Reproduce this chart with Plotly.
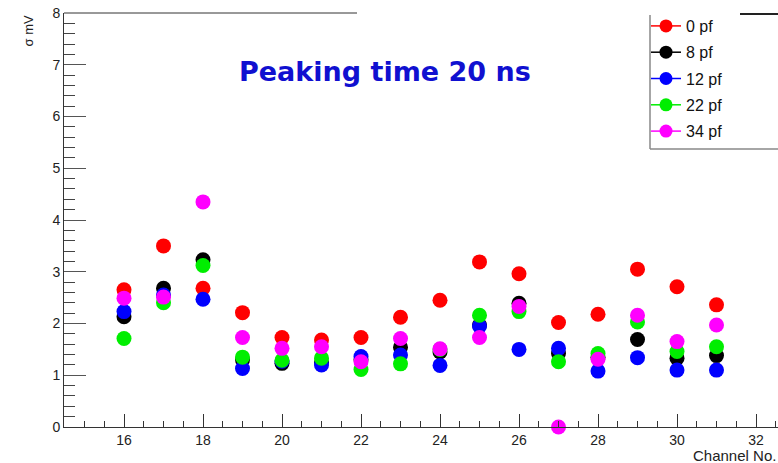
import plotly.graph_objects as go

channels = list(range(16, 32))
series_names = ["0 pf", "8 pf", "12 pf", "22 pf", "34 pf"]
series_colors = ["#ff0000", "#000000", "#0000ff", "#00ee00", "#ff00ff"]

sigma_0pf = [2.65, 3.50, 2.68, 2.21, 1.73, 1.68, 1.73, 2.12, 2.45, 3.19, 2.96, 2.02, 2.18, 3.05, 2.71, 2.36]
sigma_8pf = [2.13, 2.68, 3.23, 1.30, 1.23, 1.25, 1.30, 1.54, 1.45, 1.97, 2.39, 1.42, 1.35, 1.69, 1.33, 1.38]
sigma_12pf = [2.23, 2.55, 2.47, 1.13, 1.27, 1.20, 1.36, 1.39, 1.19, 1.95, 1.50, 1.52, 1.08, 1.34, 1.10, 1.10]
sigma_22pf = [1.71, 2.40, 3.12, 1.35, 1.29, 1.33, 1.11, 1.22, 1.50, 2.16, 2.23, 1.26, 1.42, 2.03, 1.46, 1.55]
sigma_34pf = [2.49, 2.51, 4.35, 1.73, 1.52, 1.55, 1.26, 1.71, 1.51, 1.73, 2.33, 0.00, 1.31, 2.16, 1.65, 1.97]
all_series = [sigma_0pf, sigma_8pf, sigma_12pf, sigma_22pf, sigma_34pf]

x_ticks = list(range(16, 33, 2))
y_ticks = list(range(0, 9))

W, H = 778, 463
L, R, T, B = 64, 0, 13, 36
PW, PH = W - L - R, H - T - B

def px(x):
    return (x - L) / PW

def py(y):
    return (H - B - y) / PH

fig = go.Figure()

for name, color, vals in zip(series_names, series_colors, all_series):
    fig.add_trace(go.Scatter(
        x=channels, y=vals, mode="markers", name=name, showlegend=False,
        marker=dict(size=15, color=color, line=dict(width=0)),
        cliponaxis=False,
    ))

for i, (name, color) in enumerate(zip(series_names, series_colors)):
    fig.add_trace(go.Scatter(
        x=[None], y=[None], mode="lines+markers", name=name, legendgroup=f"g{i}",
        marker=dict(size=13, color=color), line=dict(color=color, width=1.5),
    ))

x_min = 16 - 60 / 39.5
x_max = x_min + PW / 39.5

fig.update_layout(
    width=W, height=H,
    margin=dict(l=L, r=R, t=T, b=B),
    paper_bgcolor="white", plot_bgcolor="white",
    font=dict(family="Liberation Sans, Arial, sans-serif", color="#222"),
    showlegend=True,
    legend=dict(
        x=px(646), y=py(9), xanchor="left", yanchor="top",
        bgcolor="rgba(0,0,0,0)", borderwidth=0,
        font=dict(size=16, color="#111"),
        tracegroupgap=2.5,
    ),
    xaxis=dict(
        range=[x_min, x_max], tickvals=x_ticks, ticks="inside", ticklen=13,
        tickcolor="#333", showgrid=False, zeroline=False, showline=True,
        linecolor="#333", linewidth=1, tickfont=dict(size=14, color="#222"),
        minor=dict(dtick=0.5, ticks="inside", ticklen=6, tickcolor="#333", showgrid=False),
    ),
    yaxis=dict(
        range=[0, 8], tickvals=y_ticks, ticks="inside", ticklen=22,
        tickcolor="#555", showgrid=False, zeroline=False, showline=True,
        linecolor="#333", linewidth=1, tickfont=dict(size=14, color="#222"),
        minor=dict(dtick=0.2, ticks="inside", ticklen=11, tickcolor="#444", showgrid=False),
    ),
    shapes=[
        dict(type="line", xref="paper", yref="paper", x0=0, x1=px(357), y0=1, y1=1,
             line=dict(color="#333", width=1)),
        dict(type="rect", xref="paper", yref="paper", x0=px(650), x1=1.02, y0=py(149), y1=py(15),
             fillcolor="white", line=dict(width=0), layer="above"),
        dict(type="line", xref="paper", yref="paper", x0=px(650), x1=px(650), y0=py(149), y1=py(15),
             line=dict(color="#888", width=1.5), layer="above"),
        dict(type="line", xref="paper", yref="paper", x0=px(650), x1=1, y0=py(149), y1=py(149),
             line=dict(color="#888", width=1.5), layer="above"),
        dict(type="line", xref="paper", yref="paper", x0=px(740), x1=1, y0=py(14), y1=py(14),
             line=dict(color="#222", width=2), layer="above"),
    ],
    annotations=[
        dict(text="<b>Peaking time 20 ns</b>", xref="paper", yref="paper",
             x=px(385), y=py(72), xanchor="center", yanchor="middle", showarrow=False,
             font=dict(family="DejaVu Sans, sans-serif", size=27, color="#1010d0")),
        dict(text="σ mV", xref="paper", yref="paper", x=px(28), y=py(14),
             xanchor="center", yanchor="top", textangle=-90, showarrow=False,
             font=dict(size=13, color="#222")),
        dict(text="Channel No.", xref="paper", yref="paper", x=px(691), y=py(455),
             xanchor="left", yanchor="middle", showarrow=False,
             font=dict(size=15, color="#222")),
    ],
)

fig.write_html("out.html", config={"displayModeBar": False},
               post_script="document.body.style.margin='0';")
